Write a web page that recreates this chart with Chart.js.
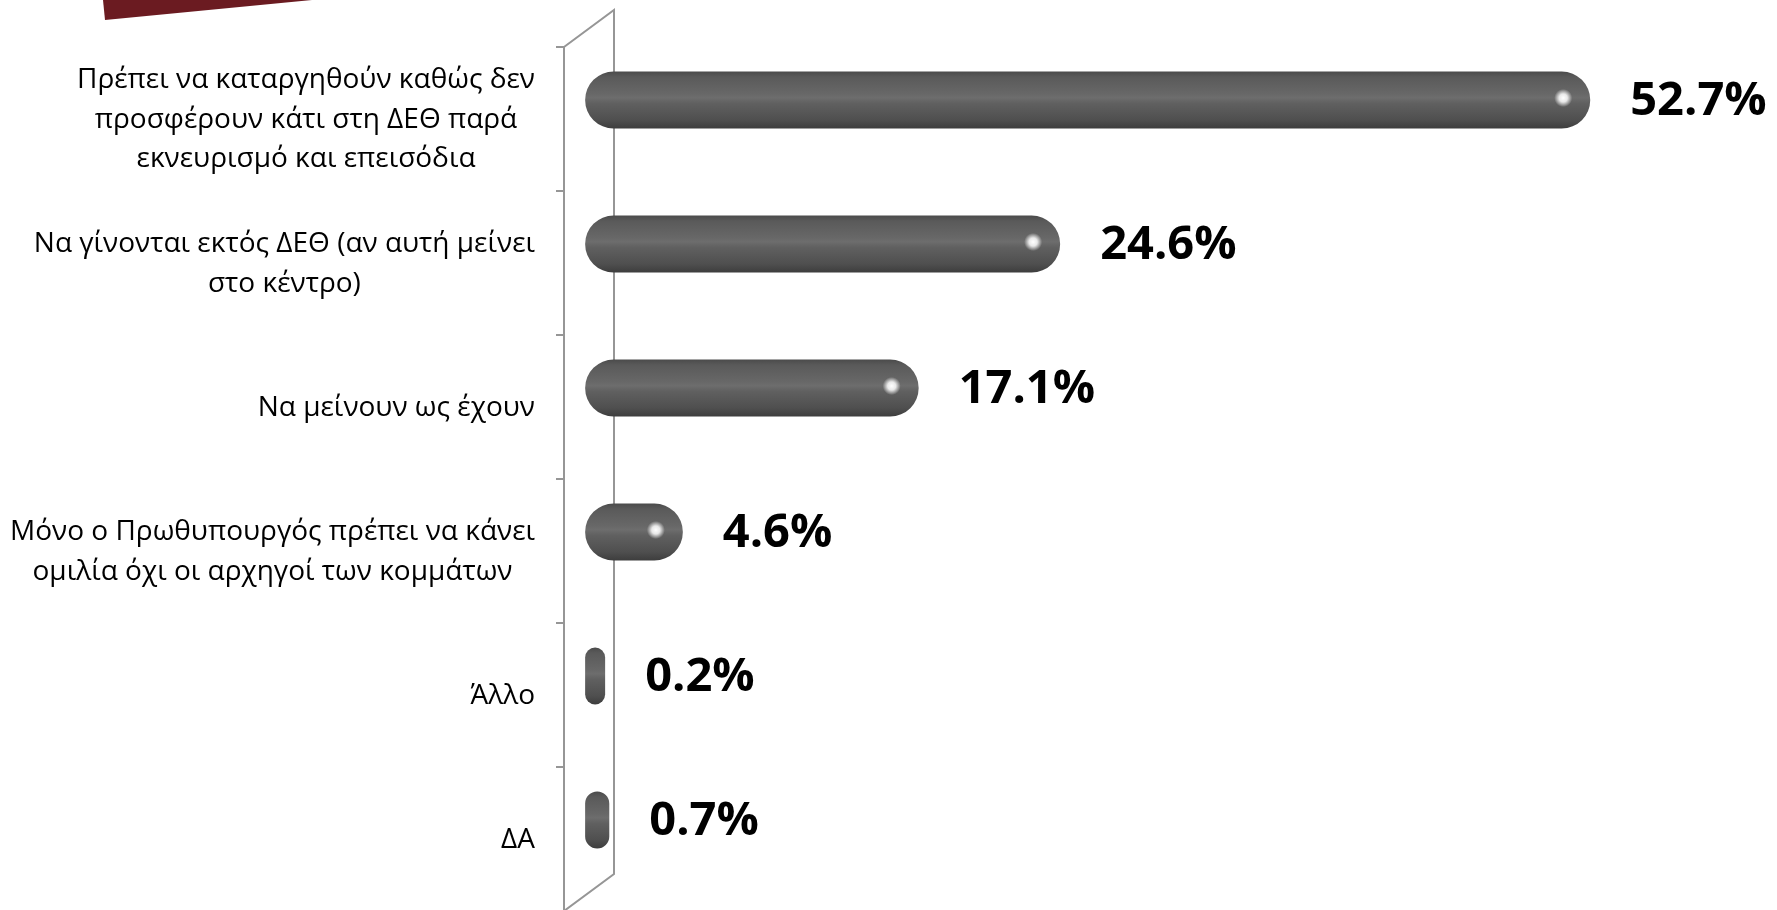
<!DOCTYPE html>
<html>
<head>
<meta charset="utf-8">
<script src="https://cdn.jsdelivr.net/npm/chart.js@4.4.1/dist/chart.umd.min.js"></script>
<style>
  html, body { margin: 0; padding: 0; background: #fff; }
  #wrap { position: relative; width: 1777px; height: 910px; overflow: hidden; }
  #wrap canvas { display: block; }
  #tab { position: absolute; left: 0; top: 0; width: 400px; height: 30px; z-index: 2;
         background: #6b1b21; clip-path: polygon(103px 0, 312px 0, 105px 20px); }
</style>
</head>
<body>
<div id="wrap">
  <div id="tab"></div>
  <canvas id="chart" width="1777" height="910"></canvas>
</div>
<script>
// --- DATA ---
const categories = [
    ['Πρέπει να καταργηθούν καθώς δεν', 'προσφέρουν κάτι στη ΔΕΘ παρά', 'εκνευρισμό και επεισόδια'],
    ['Να γίνονται εκτός ΔΕΘ (αν αυτή μείνει', 'στο κέντρο)'],
    ['Να μείνουν ως έχουν'],
    ['Μόνο ο Πρωθυπουργός πρέπει να κάνει', 'ομιλία όχι οι αρχηγοί των κομμάτων'],
    ['Άλλο'],
    ['ΔΑ']
];
const percentages = [52.7, 24.6, 17.1, 4.6, 0.2, 0.7];

// 3D wall offsets (front plane sits lower-left, back plane upper-right)
const FRONT_DY = 19, BACK_DX = 50, BACK_DY = -18, LABEL_DY = 20;
const BAR_HALF = 28.5;

// --- PLUGINS ---
const wallPlugin = {
    id: 'wall',
    beforeDatasetsDraw(chart) {
        const ys = chart.scales.y, ctx = chart.ctx;
        const left = chart.chartArea.left;
        const top = ys.getPixelForValue(-0.5), bottom = ys.getPixelForValue(categories.length - 0.5);
        ctx.save();
        ctx.strokeStyle = '#969696';
        ctx.lineWidth = 2;
        ctx.beginPath();
        ctx.moveTo(left, top + FRONT_DY);
        ctx.lineTo(left, bottom + FRONT_DY);
        ctx.moveTo(left, top + FRONT_DY);
        ctx.lineTo(left + BACK_DX, top + BACK_DY);
        ctx.lineTo(left + BACK_DX, bottom + BACK_DY);
        ctx.lineTo(left, bottom + FRONT_DY);
        for (let i = 0; i <= categories.length; i++) {
            const y = ys.getPixelForValue(i - 0.5) + FRONT_DY;
            ctx.moveTo(left - 8, y);
            ctx.lineTo(left, y);
        }
        ctx.stroke();
        ctx.restore();
    }
};

const labelPlugin = {
    id: 'labels',
    afterDatasetsDraw(chart) {
        const ys = chart.scales.y, ctx = chart.ctx;
        const meta = chart.getDatasetMeta(0);
        ctx.save();
        // category labels: block right aligned, lines centred inside the block
        ctx.font = '28px "Open Sans"';
        ctx.fillStyle = '#000';
        ctx.textAlign = 'center';
        ctx.textBaseline = 'middle';
        const right = chart.chartArea.left - 29, lh = 39.5;
        categories.forEach((lines, i) => {
            const w = Math.max(...lines.map(l => ctx.measureText(l).width));
            const cy = ys.getPixelForValue(i) + LABEL_DY;
            lines.forEach((l, k) => {
                ctx.fillText(l, right - w / 2, cy + (k - (lines.length - 1) / 2) * lh);
            });
        });
        // glints near the bar ends
        meta.data.forEach(el => {
            if (el.x - el.base < 60) return;
            const gx = el.x - 27, gy = el.y - 2;
            const g = ctx.createRadialGradient(gx, gy, 0, gx, gy, 9);
            g.addColorStop(0, 'rgba(255,255,255,1)');
            g.addColorStop(0.45, 'rgba(255,255,255,0.85)');
            g.addColorStop(1, 'rgba(255,255,255,0)');
            ctx.fillStyle = g;
            ctx.fillRect(gx - 10, gy - 10, 20, 20);
        });
        // value labels
        ctx.font = 'bold 47px "Open Sans"';
        ctx.fillStyle = '#000';
        ctx.textAlign = 'left';
        ctx.textBaseline = 'alphabetic';
        meta.data.forEach((el, i) => {
            ctx.fillText(percentages[i].toFixed(1) + '%', el.x + 40, el.y + 15);
        });
        ctx.restore();
    }
};

// --- CHART ---
const chart = new Chart(document.getElementById('chart'), {
    type: 'bar',
    data: {
        labels: categories,
        datasets: [{
            data: percentages,
            base: -0.58,
            minBarLength: 20,
            barPercentage: 0.396,
            categoryPercentage: 1,
            borderRadius: 29,
            borderSkipped: false,
            borderWidth: 0,
            backgroundColor: (c) => {
                const ys = c.chart.scales.y;
                if (!ys || c.type !== 'data') return '#5a5a5a';
                const cy = ys.getPixelForValue(c.dataIndex);
                if (!isFinite(cy)) return '#5a5a5a';
                const g = c.chart.ctx.createLinearGradient(0, cy - BAR_HALF, 0, cy + BAR_HALF);
                g.addColorStop(0, '#4b4b4b');
                g.addColorStop(0.1, '#5a5a5a');
                g.addColorStop(0.38, '#676767');
                g.addColorStop(0.46, '#6d6d6d');
                g.addColorStop(0.56, '#606060');
                g.addColorStop(0.85, '#4f4f4f');
                g.addColorStop(1, '#3d3d3d');
                return g;
            }
        }]
    },
    options: {
        indexAxis: 'y',
        responsive: false,
        animation: false,
        layout: { padding: { top: 28, bottom: 18, left: 0, right: 0 } },
        scales: {
            x: { type: 'linear', min: -1.7, max: 62.6, display: false },
            y: {
                type: 'category',
                offset: true,
                ticks: { display: false },
                grid: { display: false, drawTicks: false },
                border: { display: false },
                afterFit: (s) => { s.width = 564; }
            }
        },
        plugins: { legend: { display: false }, tooltip: { enabled: false } }
    },
    plugins: [wallPlugin, labelPlugin]
});
</script>
</body>
</html>
